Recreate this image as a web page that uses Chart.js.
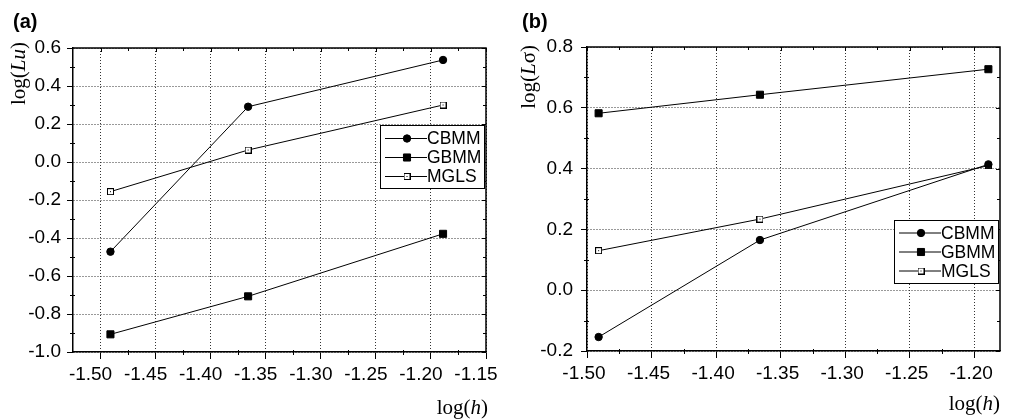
<!DOCTYPE html>
<html>
<head>
<meta charset="utf-8">
<script src="https://cdn.jsdelivr.net/npm/chart.js@4/dist/chart.umd.min.js"></script>
<style>
  html, body { margin: 0; padding: 0; background: #fff; }
  #wrap { position: relative; width: 1013px; height: 420px; overflow: hidden; }
  .panel { position: absolute; top: 0; }
  canvas { display: block; }
</style>
</head>
<body>
<div id="wrap">
  <div class="panel" style="left:0"><canvas id="chart-a" width="514" height="420"></canvas></div>
  <div class="panel" style="left:514px"><canvas id="chart-b" width="499" height="420"></canvas></div>
</div>
<script>
'use strict';

// ─── Data ───────────────────────────────────────────────────────────────────
const logH = [-1.491, -1.366, -1.189];

// (a) log(Lu)
const luCBMM = [-0.472, 0.291, 0.537];
const luGBMM = [-0.907, -0.707, -0.378];
const luMGLS = [-0.156, 0.063, 0.300];

// (b) log(Lσ)
const sigCBMM = [-0.154, 0.165, 0.414];
const sigGBMM = [0.582, 0.643, 0.727];
const sigMGLS = [0.130, 0.234, 0.410];

const xTicksA = [-1.50, -1.45, -1.40, -1.35, -1.30, -1.25, -1.20, -1.15];
const yTicksA = [-1.0, -0.8, -0.6, -0.4, -0.2, 0.0, 0.2, 0.4, 0.6];
const xTicksB = [-1.50, -1.45, -1.40, -1.35, -1.30, -1.25, -1.20];
const yTicksB = [-0.2, 0.0, 0.2, 0.4, 0.6, 0.8];

const SANS = '"Liberation Sans", Arial, Helvetica, sans-serif';
const SERIF = '"Liberation Serif", "Times New Roman", serif';

// ─── Markers ────────────────────────────────────────────────────────────────
// open square with a small dot in the middle
function openSquare() {
  const c = document.createElement('canvas');
  c.width = 7; c.height = 7;
  const g = c.getContext('2d');
  g.fillStyle = '#fff';
  g.fillRect(0, 0, 7, 7);
  g.strokeStyle = '#000';
  g.lineWidth = 1;
  g.strokeRect(0.5, 0.5, 6, 6);
  g.fillStyle = '#000';
  g.fillRect(3, 3, 1, 1);
  return c;
}
const MGLS_MARK = openSquare();

function series(label, ys, style, radius) {
  return {
    label,
    data: logH.map((x, i) => ({ x, y: ys[i] })),
    showLine: true,
    borderColor: '#000',
    borderWidth: 1,
    backgroundColor: '#000',
    pointStyle: style,
    pointRadius: radius,
    pointBorderWidth: 1,
    pointBorderColor: '#000',
    pointBackgroundColor: '#000',
  };
}

// ─── Plugins ────────────────────────────────────────────────────────────────
function line(ctx, x1, y1, x2, y2) {
  ctx.beginPath();
  ctx.moveTo(x1, y1);
  ctx.lineTo(x2, y2);
  ctx.stroke();
}

function mids(ticks) {
  return ticks.slice(1).map((v, i) => (v + ticks[i]) / 2);
}

// top/right frame, mirror ticks and minor ticks
const framePlugin = {
  id: 'frame',
  afterDraw(chart) {
    const ctx = chart.ctx;
    const { left, right, top, bottom } = chart.chartArea;
    const xs = chart.scales.x, ys = chart.scales.y;
    ctx.save();
    ctx.strokeStyle = '#000';
    ctx.lineWidth = 1.5;
    ctx.beginPath();
    ctx.moveTo(left, top);
    ctx.lineTo(right, top);
    ctx.lineTo(right, bottom);
    ctx.stroke();

    ctx.lineWidth = 1;
    xs.ticks.forEach(t => {
      const px = Math.round(xs.getPixelForValue(t.value)) + 0.5;
      line(ctx, px, top, px, top + 4);
    });
    mids(xs.ticks.map(t => t.value)).forEach(v => {
      const px = Math.round(xs.getPixelForValue(v)) + 0.5;
      line(ctx, px, top, px, top + 3);
      line(ctx, px, bottom - 2, px, bottom + 3);
    });
    ys.ticks.forEach(t => {
      const py = Math.round(ys.getPixelForValue(t.value)) + 0.5;
      line(ctx, right, py, right - 4, py);
    });
    mids(ys.ticks.map(t => t.value)).forEach(v => {
      const py = Math.round(ys.getPixelForValue(v)) + 0.5;
      line(ctx, right, py, right - 3, py);
      line(ctx, left - 3, py, left + 2, py);
    });
    ctx.restore();
  }
};

// axis titles with italic parts, e.g. log(Lu)
function drawParts(ctx, parts, rightX, baseY) {
  const font = p => (p.italic ? 'italic ' : '') + '21px ' + SERIF;
  let total = 0;
  parts.forEach(p => { ctx.font = font(p); total += ctx.measureText(p.text).width; });
  let x = rightX - total;
  parts.forEach(p => {
    ctx.font = font(p);
    ctx.fillText(p.text, x, baseY);
    x += ctx.measureText(p.text).width;
  });
}

const axisTitlePlugin = {
  id: 'axisTitles',
  afterDraw(chart, args, opts) {
    const ctx = chart.ctx;
    ctx.save();
    ctx.fillStyle = '#000';
    ctx.textAlign = 'left';
    ctx.textBaseline = 'alphabetic';
    drawParts(ctx, opts.x.parts, opts.x.right, opts.x.baseline);
    ctx.translate(opts.y.baseline, opts.y.end);
    ctx.rotate(-Math.PI / 2);
    drawParts(ctx, opts.y.parts, 0, 0);
    ctx.restore();
  }
};

// boxed legend inside the plot: line + marker + label
const boxLegendPlugin = {
  id: 'boxLegend',
  afterDraw(chart, args, opts) {
    const ctx = chart.ctx;
    const area = chart.chartArea;
    const bx = area.right - opts.offsetRight - opts.width;
    const by = area.top + opts.offsetTop;
    ctx.save();
    ctx.fillStyle = '#fff';
    ctx.fillRect(bx, by, opts.width, opts.height);
    ctx.strokeStyle = '#000';
    ctx.lineWidth = 1;
    ctx.strokeRect(bx + 0.5, by + 0.5, opts.width - 1, opts.height - 1);
    ctx.font = '17.5px ' + SANS;
    ctx.textAlign = 'left';
    ctx.textBaseline = 'middle';
    chart.data.datasets.forEach((ds, i) => {
      const y = by + opts.firstRow + i * opts.rowGap;
      ctx.strokeStyle = '#000';
      ctx.fillStyle = '#000';
      ctx.lineWidth = 1;
      line(ctx, bx + 5, y, bx + 47, y);
      Chart.helpers.drawPoint(ctx, {
        pointStyle: ds.pointStyle, radius: ds.pointRadius, rotation: 0, borderWidth: 1
      }, bx + 27, y);
      ctx.fillStyle = '#000';
      ctx.fillText(ds.label, bx + 47, y + 1);
    });
    ctx.restore();
  }
};

// ─── Chart factory ──────────────────────────────────────────────────────────
function makeChart(id, cfg) {
  const tickFont = { family: SANS, size: 19 };
  return new Chart(document.getElementById(id), {
    type: 'scatter',
    data: {
      datasets: [
        series('CBMM', cfg.cbmm, 'circle', 3.7),
        series('GBMM', cfg.gbmm, 'rect', 5),
        series('MGLS', cfg.mgls, MGLS_MARK, 3.5),
      ]
    },
    options: {
      responsive: false,
      animation: false,
      events: [],
      layout: { padding: { left: cfg.padLeft, right: cfg.padRight, top: 0, bottom: 0 } },
      scales: {
        x: {
          type: 'linear',
          min: cfg.xMin, max: cfg.xMax,
          afterBuildTicks: s => { s.ticks = cfg.xTicks.map(v => ({ value: v })); },
          afterFit: s => { s.height = cfg.xAxisHeight; s.paddingLeft = 0; s.paddingRight = 0; },
          ticks: {
            callback: v => v.toFixed(2), font: tickFont, color: '#000', padding: 4,
            labelOffset: cfg.xLabelOffset, maxRotation: 0, autoSkip: false
          },
          grid: { color: '#333', lineWidth: 1, drawTicks: true, tickLength: 7, tickColor: '#000', tickWidth: 1, tickBorderDash: [] },
          border: { display: true, color: '#000', width: 1.5, dash: [1, 2] },
        },
        y: {
          type: 'linear',
          min: cfg.yMin, max: cfg.yMax,
          afterBuildTicks: s => { s.ticks = cfg.yTicks.map(v => ({ value: v })); },
          afterFit: s => { s.width = cfg.yAxisWidth; s.paddingTop = 0; s.paddingBottom = 0; },
          ticks: { callback: v => v.toFixed(1), font: tickFont, color: '#000', padding: cfg.yPad, autoSkip: false },
          grid: { color: '#333', lineWidth: 1, drawTicks: true, tickLength: 6, tickColor: '#000', tickWidth: 1, tickBorderDash: [] },
          border: { display: true, color: '#000', width: 1.5, dash: [1, 2] },
        }
      },
      plugins: {
        legend: { display: false },
        tooltip: { enabled: false },
        title: {
          display: true, text: cfg.panel, align: 'start', color: '#000',
          font: { family: SANS, size: 20, weight: 'bold' },
          padding: { top: 10, bottom: cfg.titleBottom }
        },
        axisTitles: cfg.titles,
        boxLegend: cfg.legend,
      }
    },
    plugins: [framePlugin, axisTitlePlugin, boxLegendPlugin]
  });
}

makeChart('chart-a', {
  panel: '(a)',
  cbmm: luCBMM, gbmm: luGBMM, mgls: luMGLS,
  xMin: -1.525, xMax: -1.15, yMin: -1.0, yMax: 0.6,
  xTicks: xTicksA, yTicks: yTicksA, xLabelOffset: -10,
  padLeft: 13, padRight: 28, yAxisWidth: 60, xAxisHeight: 68, titleBottom: 14, yPad: 6,
  titles: {
    x: { parts: [{ text: 'log(' }, { text: 'h', italic: true }, { text: ')' }], right: 488, baseline: 414 },
    y: { parts: [{ text: 'log(' }, { text: 'Lu', italic: true }, { text: ')' }], baseline: 25, end: 42 },
  },
  legend: { offsetRight: 1, offsetTop: 77, width: 105, height: 64, firstRow: 13.5, rowGap: 19 },
});

makeChart('chart-b', {
  panel: '(b)',
  cbmm: sigCBMM, gbmm: sigGBMM, mgls: sigMGLS,
  xMin: -1.50, xMax: -1.18, yMin: -0.2, yMax: 0.8,
  xTicks: xTicksB, yTicks: yTicksB, xLabelOffset: -3,
  padLeft: 8, padRight: 13, yAxisWidth: 65, xAxisHeight: 69, titleBottom: 13, yPad: 8,
  titles: {
    x: { parts: [{ text: 'log(' }, { text: 'h', italic: true }, { text: ')' }], right: 486, baseline: 410 },
    y: { parts: [{ text: 'log(' }, { text: 'L', italic: true }, { text: 'σ)' }], baseline: 21, end: 45 },
  },
  legend: { offsetRight: 1, offsetTop: 173, width: 105, height: 64, firstRow: 13, rowGap: 19 },
});
</script>
</body>
</html>
